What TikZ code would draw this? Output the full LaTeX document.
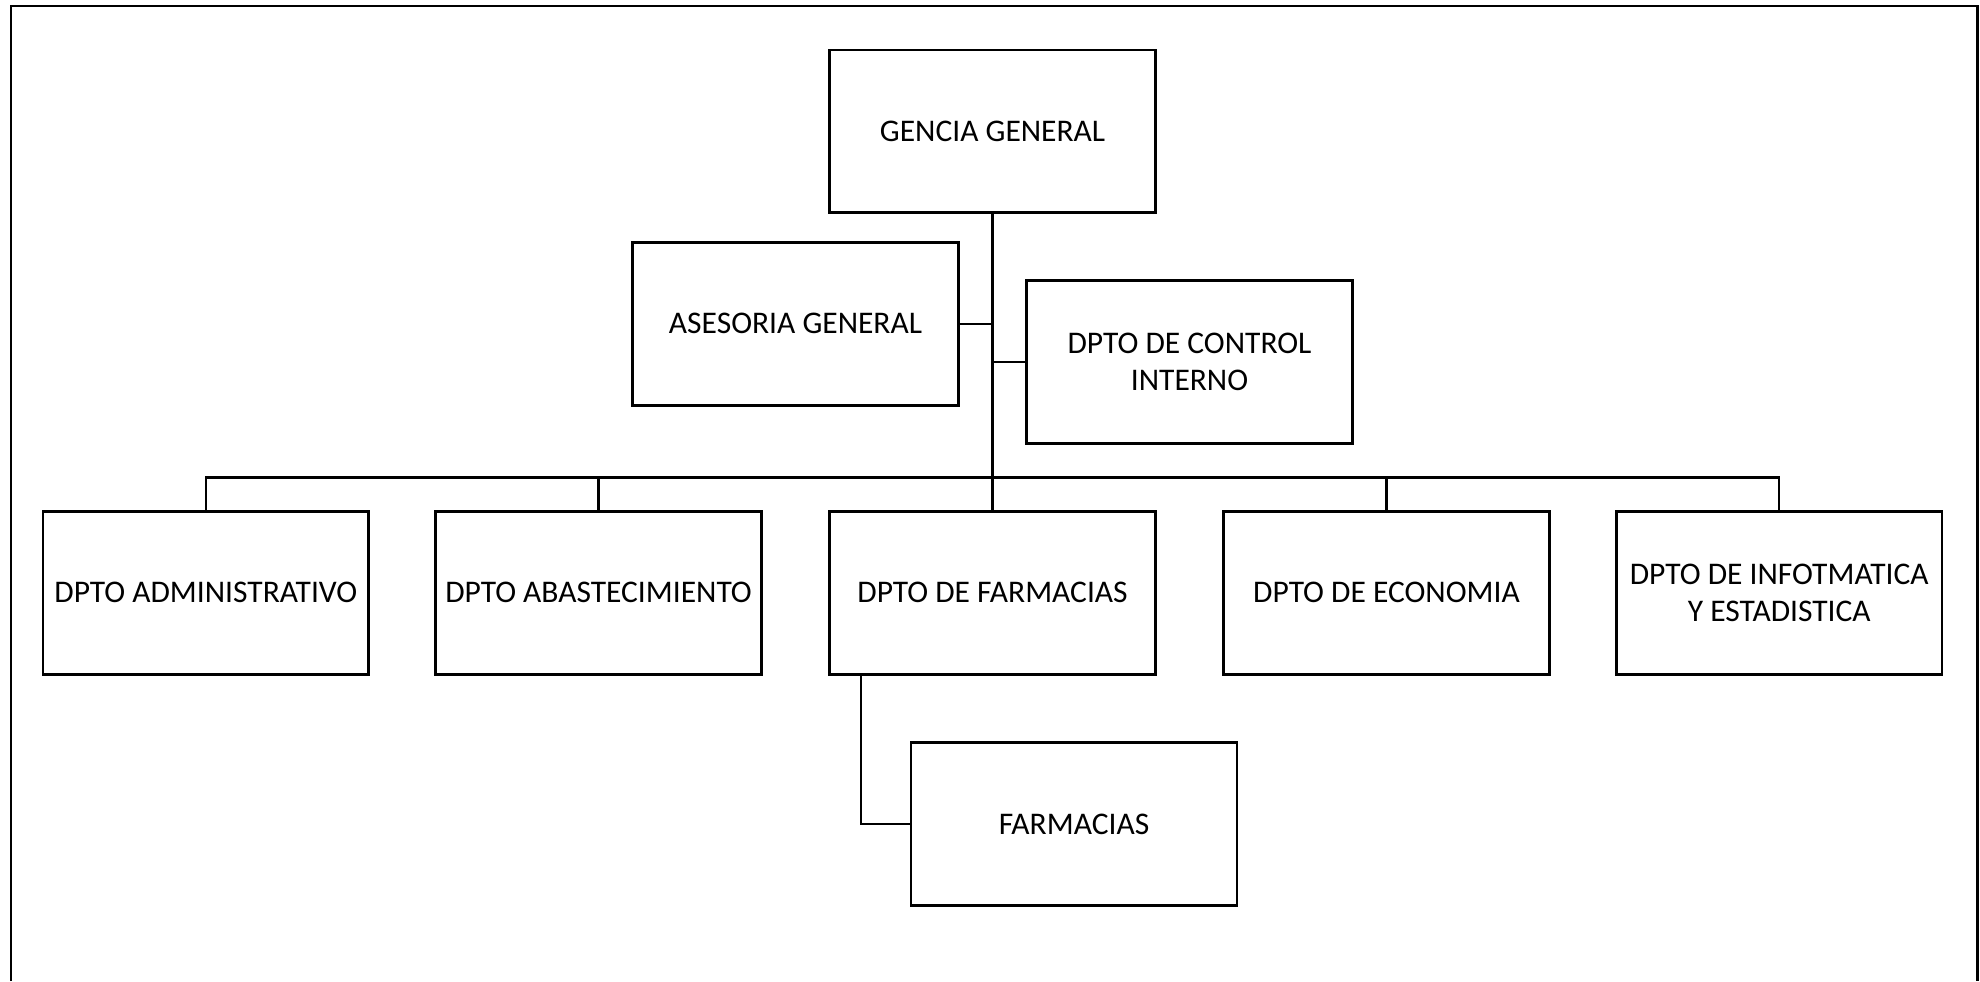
\documentclass[tikz,border=0pt]{standalone}
\usepackage{fontspec}
\setmainfont{Carlito}
\usepackage{tikz}
\usetikzlibrary{positioning,calc}

\begin{document}
\begin{tikzpicture}
[semithick,
unit/.style={rectangle,draw,line width=1.2pt,minimum width=5.16cm,minimum height=2.58cm,
inner sep=0pt,align=center,font=\fontsize{14.2}{17}\selectfont},
link/.style={line width=1.1pt},
trunk/.style={line width=1.7pt}]
\useasboundingbox (0,0) rectangle (31.36,15.54);
\draw[line width=1pt] (0.18,0) -- (0.18,15.44) -- (31.32,15.44) -- (31.32,0);

\node (gg) at (15.72,13.46)[unit] {GENCIA GENERAL};
\node (ase) at (12.6,10.41)[unit] {ASESORIA GENERAL};
\node (ctrl) at (18.84,9.81)[unit] {DPTO DE CONTROL\\INTERNO};

\node (dadm) at (3.26,6.15)[unit] {DPTO ADMINISTRATIVO};
\node (dabs) at (9.48,6.15)[unit] {DPTO ABASTECIMIENTO};
\node (dfar) at (15.72,6.15)[unit] {DPTO DE FARMACIAS};
\node (deco) at (21.96,6.15)[unit] {DPTO DE ECONOMIA};
\node (dinf) at (28.18,6.15)[unit] {DPTO DE INFOTMATICA\\Y ESTADISTICA};

\node (farm) at (17.01,2.49)[unit] {FARMACIAS};

\coordinate (bus) at (15.72,7.98);

\draw[trunk] (gg.south) -- (dfar.north);
\draw[link] (ase.east) -- (ase.east -| gg.south);
\draw[link] (ctrl.west) -- (ctrl.west -| gg.south);

\draw[link] (dadm.north) |- (bus) -| (dinf.north);
\draw[link] (dabs.north) -- (dabs.north |- bus);
\draw[link] (deco.north) -- (deco.north |- bus);

\draw[link] ([xshift=0.52cm]dfar.south west) |- (farm.west);
\end{tikzpicture}
\end{document}
